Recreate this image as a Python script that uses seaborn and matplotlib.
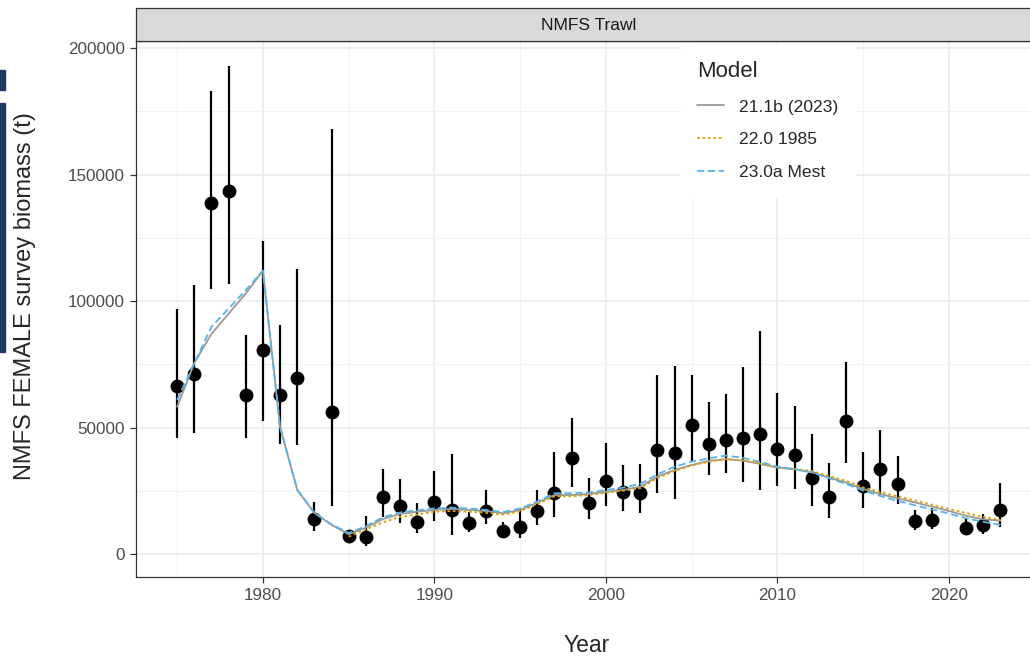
import numpy as np
import pandas as pd
import matplotlib
matplotlib.use("Agg")
import matplotlib.pyplot as plt
import seaborn as sns
from matplotlib.patches import Rectangle

# Donnees (en milliers de tonnes)

annees_obs = [1975, 1976, 1977, 1978, 1979, 1980, 1981, 1982, 1983, 1984,
              1985, 1986, 1987, 1988, 1989, 1990, 1991, 1992, 1993, 1994,
              1995, 1996, 1997, 1998, 1999, 2000, 2001, 2002, 2003, 2004,
              2005, 2006, 2007, 2008, 2009, 2010, 2011, 2012, 2013, 2014,
              2015, 2016, 2017, 2018, 2019, 2021, 2022, 2023]
biomasse_obs = [66.5, 71.1, 138.7, 143.5, 63.0, 80.6, 62.9, 69.5, 13.7, 56.2,
                7.2, 6.8, 22.7, 19.1, 12.8, 20.7, 17.4, 12.4, 17.1, 9.1,
                10.8, 17.1, 24.2, 37.8, 20.3, 28.9, 24.4, 24.0, 41.1, 40.0,
                50.8, 43.3, 45.2, 45.7, 47.3, 41.4, 39.0, 29.9, 22.5, 52.6,
                27.0, 33.6, 27.7, 12.9, 13.4, 10.3, 11.3, 17.4]
ic_bas = [45.8, 47.8, 104.7, 106.7, 45.8, 52.6, 43.5, 42.9, 9.1, 18.8,
          5.5, 3.2, 14.7, 12.4, 8.3, 13.0, 7.5, 8.8, 11.9, 6.8,
          6.4, 11.5, 14.7, 26.6, 13.7, 19.1, 17.0, 16.1, 24.0, 21.6,
          36.5, 31.1, 32.1, 28.3, 25.3, 27.0, 25.7, 19.1, 14.1, 36.1,
          18.0, 23.3, 19.8, 9.5, 9.8, 7.4, 7.9, 10.8]
ic_haut = [96.8, 106.3, 183.0, 192.9, 86.6, 123.7, 90.5, 112.6, 20.6, 168.0,
           9.4, 15.0, 33.6, 29.6, 20.2, 32.8, 39.5, 16.7, 25.3, 12.6,
           18.2, 25.3, 40.4, 53.6, 29.9, 43.7, 35.2, 35.4, 70.8, 74.3,
           70.8, 60.0, 63.1, 74.0, 88.1, 63.5, 58.6, 47.4, 36.1, 76.0,
           40.2, 49.0, 38.7, 17.4, 18.0, 14.3, 15.8, 27.9]

annees_mod = list(range(1975, 2024))
mod_211b = [58.2, 75.5, 87.0, 95.0, 103.0, 112.0, 50.0, 25.3, 16.2, 11.5,
            7.8, 10.4, 13.8, 15.8, 16.7, 17.4, 17.8, 17.4, 17.0, 16.1,
            17.4, 20.3, 23.3, 23.3, 23.7, 24.6, 25.3, 26.6, 30.6, 33.2,
            35.2, 36.8, 37.5, 36.9, 35.6, 34.1, 33.5, 32.3, 30.2, 28.2,
            25.7, 23.7, 22.0, 20.4, 18.7, 17.0, 15.1, 13.7, 13.2]
mod_230a = [60.9, 75.5, 89.8, 97.0, 104.3, 112.0, 50.5, 25.5, 16.4, 11.7,
            8.3, 11.0, 14.5, 16.4, 17.3, 18.0, 18.3, 18.0, 17.4, 16.6,
            18.0, 20.8, 24.0, 24.0, 24.3, 25.3, 26.2, 27.7, 31.5, 34.5,
            36.5, 37.8, 38.9, 38.0, 36.4, 34.5, 33.5, 32.3, 30.0, 27.7,
            25.1, 22.9, 21.0, 19.3, 17.6, 16.0, 14.1, 12.7, 11.5]
annees_1985 = list(range(1985, 2024))
mod_220 = [6.8, 9.7, 12.5, 14.7, 15.6, 16.7, 17.0, 16.7, 16.3, 15.5,
           16.9, 19.7, 22.8, 22.8, 23.3, 24.2, 25.0, 26.0, 30.0, 32.8,
           35.0, 36.5, 37.5, 37.0, 35.8, 34.3, 33.6, 32.8, 30.8, 28.9,
           26.3, 24.5, 22.8, 21.2, 19.5, 17.8, 16.2, 14.7, 13.4]

noms_modeles = ["21.1b (2023)", "22.0 1985", "23.0a Mest"]
couleurs = ["#999999", "#E69F00", "#56B4E9"]

# Mise en forme des tableaux

obs = pd.DataFrame({"Year": annees_obs,
                    "Obs": np.array(biomasse_obs) * 1000,
                    "Lo": np.array(ic_bas) * 1000,
                    "Hi": np.array(ic_haut) * 1000})

modeles = pd.concat([
    pd.DataFrame({"Year": annees_mod, "Pred": np.array(mod_211b) * 1000, "Model": noms_modeles[0]}),
    pd.DataFrame({"Year": annees_1985, "Pred": np.array(mod_220) * 1000, "Model": noms_modeles[1]}),
    pd.DataFrame({"Year": annees_mod, "Pred": np.array(mod_230a) * 1000, "Model": noms_modeles[2]}),
], ignore_index=True)

# Figure

sns.set_theme(style="white")
plt.rcParams["font.family"] = ["Liberation Sans", "DejaVu Sans"]

W, H = 1030, 659
fig = plt.figure(figsize=(W / 100, H / 100), dpi=100)
gauche, droite, haut, bas = 136, 1041.6, 41, 577
ax = fig.add_axes([gauche / W, 1 - bas / H, (droite - gauche) / W, (bas - haut) / H])

ax.set_xlim(1972.6, 2025.4)
ax.set_ylim(-9100, 202800)
ax.set_xticks([1980, 1990, 2000, 2010, 2020])
ax.set_xticks([1975, 1985, 1995, 2005, 2015, 2025], minor=True)
ax.set_yticks([0, 50000, 100000, 150000, 200000])
ax.set_yticks([25000, 75000, 125000, 175000], minor=True)
ax.set_yticklabels(["0", "50000", "100000", "150000", "200000"])
ax.grid(which="major", color="#EBEBEB", linewidth=1.2)
ax.grid(which="minor", color="#F2F2F2", linewidth=0.7)
ax.set_axisbelow(True)
ax.tick_params(which="major", length=4, width=0.9, color="#333333",
               labelsize=12.3, labelcolor="#4D4D4D", bottom=True, left=True, pad=4)
ax.tick_params(which="minor", length=0)
for s in ax.spines.values():
    s.set_color("#333333")
    s.set_linewidth(0.9)

ax.vlines(obs["Year"], obs["Lo"], obs["Hi"], color="black", linewidth=1.6, zorder=3)
sns.scatterplot(data=obs, x="Year", y="Obs", color="black", s=100, edgecolor="black",
                linewidth=0, ax=ax, zorder=4, legend=False)

sns.lineplot(data=modeles, x="Year", y="Pred", hue="Model", style="Model",
             hue_order=noms_modeles, style_order=noms_modeles,
             palette=couleurs, dashes=[(None, None), (1.5, 1.5), (4, 2)],
             linewidth=1.3, ax=ax, zorder=5)

ax.set_xlabel("")
ax.set_ylabel("")

leg = ax.legend(title="Model", loc="upper left", bbox_to_anchor=(0.6015, 0.994),
                frameon=True, fontsize=12.6, title_fontsize=16, handlelength=1.55,
                labelspacing=1.0, borderpad=0.95, handletextpad=0.85, borderaxespad=0)
leg.get_frame().set_edgecolor("white")
leg.get_frame().set_facecolor("white")
leg.get_frame().set_alpha(1)
leg.get_frame().set_boxstyle("square", pad=0)
leg._legend_box.align = "left"
leg.set_zorder(6)

# Bandeau du panneau
bandeau = fig.add_axes([gauche / W, 1 - haut / H, (droite - gauche) / W, 33 / H])
bandeau.set_facecolor("#D9D9D9")
bandeau.set_xticks([])
bandeau.set_yticks([])
for s in bandeau.spines.values():
    s.set_color("#333333")
    s.set_linewidth(0.9)
bandeau.text(0.5, 0.48, "NMFS Trawl", ha="center", va="center", fontsize=12.5, color="#1A1A1A")

fig.text(587 / W, 1 - 645 / H, "Year", ha="center", va="center", fontsize=16.5)
fig.text(25 / W, 1 - 296 / H, "NMFS FEMALE survey biomass (t)", ha="center", va="center",
         rotation=90, fontsize=17)

# Barres bleues sur le bord gauche
fig.patches.append(Rectangle((0, 1 - 90 / H), 5 / W, 20 / H, transform=fig.transFigure,
                             color="#1F3864", zorder=10))
fig.patches.append(Rectangle((0, 1 - 352 / H), 5 / W, 249 / H, transform=fig.transFigure,
                             color="#1F3864", zorder=10))

fig.savefig("out.png", dpi=100)
